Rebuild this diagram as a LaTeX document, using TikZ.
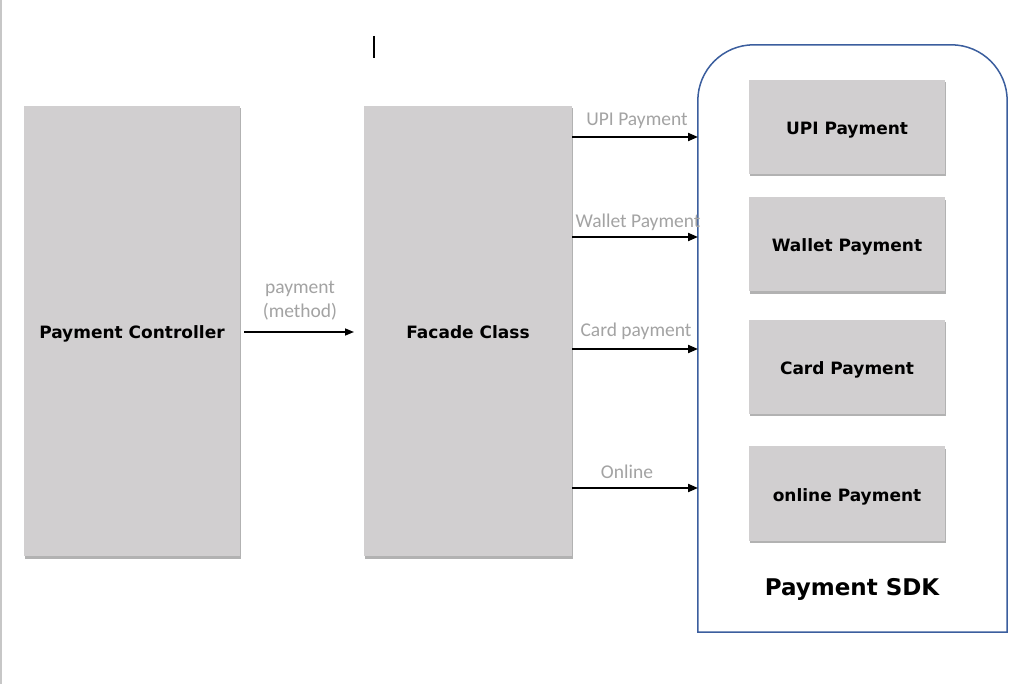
\documentclass[tikz,border=0pt]{standalone}
\usepackage{fontspec}
\newfontfamily\boxfont{DejaVu Sans}
\newfontfamily\labfont{Carlito}
\usetikzlibrary{arrows.meta,shadows,calc}
\definecolor{boxgray}{HTML}{D1CFD0}
\definecolor{labgray}{HTML}{A3A3A3}
\definecolor{sdkblue}{HTML}{3B5E9E}
\tikzset{
  graybox/.style={rectangle, fill=boxgray, draw=none, inner sep=0pt,
    text height=19pt, text depth=4pt,
    drop shadow={shadow xshift=1pt, shadow yshift=-2.5pt, fill=black, opacity=0.3},
    font=\boxfont\bfseries\fontsize{17}{20}\selectfont, text=black},
  bigbox/.style={graybox, minimum width=216pt, minimum height=450pt},
  sdkitem/.style={graybox, minimum width=196pt, minimum height=94pt},
  lab/.style={font=\labfont\fontsize{19.5}{24}\selectfont, text=labgray, inner sep=0pt},
  flow/.style={-{Triangle[length=10pt,width=8pt]}, line width=2pt, black},
}
\begin{document}
\begin{tikzpicture}[x=1pt,y=-1pt]
\useasboundingbox (0,0) rectangle (1023,684);
\fill[white] (0,0) rectangle (1023,684);
\draw[line width=2pt, black!22] (1,0) -- (1,684);
\draw[line width=1.5pt, black] (374,36) -- (374,58);

\node[bigbox] (ctrl) at (132,331) {Payment Controller};
\node[graybox, minimum width=208pt, minimum height=450pt] (facade) at (468,331) {Facade Class};

\node[draw=none, minimum width=309pt, minimum height=587pt, inner sep=0pt] (sdk) at (852.5,338.5) {};
\draw[sdkblue, line width=1.5pt] (sdk.south east) -- (sdk.south west)
  [rounded corners=56pt] -- (sdk.north west) -- (sdk.north east) [sharp corners] -- (sdk.south east) -- cycle;

\node[sdkitem] (upi) at (847,127) {UPI Payment};
\node[sdkitem] (wallet) at (847,244.5) {Wallet Payment};
\node[sdkitem] (card) at (847,367) {Card Payment};
\node[sdkitem] (online) at (847,493.5) {online Payment};
\node[font=\boxfont\bfseries\fontsize{23}{26}\selectfont] (sdkt) at (852,589) {Payment SDK};

\coordinate (a1s) at (572,137); \coordinate (a1e) at (698,137);
\coordinate (a2s) at (572,237); \coordinate (a2e) at (698,237);
\coordinate (a3s) at (572,349); \coordinate (a3e) at (698,349);
\coordinate (a4s) at (572,488); \coordinate (a4e) at (698,488);
\draw[flow] (a1s) -- (a1e);
\draw[flow] (a2s) -- (a2e);
\draw[flow] (a3s) -- (a3e);
\draw[flow] (a4s) -- (a4e);
\node[lab] (l1) at (637,121) {UPI Payment};
\node[lab] (l2) at (638,222) {Wallet Payment};
\node[lab] (l3) at (636,331) {Card payment};
\node[lab] (l4) at (627,472) {Online};

\coordinate (ps) at (244,332); \coordinate (pe) at (354,332);
\draw[-{Triangle[length=9pt,width=7pt]}, line width=1.5pt] (ps) -- (pe);
\node[lab, align=center] (pl) at (300,301) {payment\\(method)};
\end{tikzpicture}
\end{document}
